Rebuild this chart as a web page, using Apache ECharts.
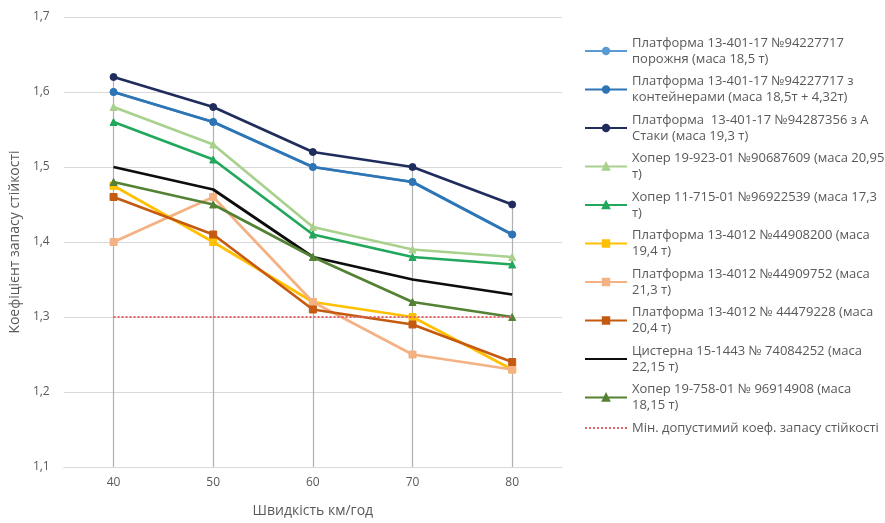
<!DOCTYPE html>
<html>
<head>
<meta charset="utf-8">
<script src="https://cdn.jsdelivr.net/npm/echarts@6/dist/echarts.min.js"></script>
<style>
  html, body { margin: 0; padding: 0; background: #fff; }
  #chart { width: 885px; height: 523px; }
</style>
</head>
<body>
<div id="chart"></div>
<script>
// Speeds, km/h
const speeds = ['40', '50', '60', '70', '80'];

// Stability reserve coefficient per wagon
const platEmpty      = [1.60, 1.56, 1.50, 1.48, 1.41];
const platContainers = [1.60, 1.56, 1.50, 1.48, 1.41];
const platStaky      = [1.62, 1.58, 1.52, 1.50, 1.45];
const hopper19923    = [1.58, 1.53, 1.42, 1.39, 1.38];
const hopper11715    = [1.56, 1.51, 1.41, 1.38, 1.37];
const plat44908200   = [1.475, 1.40, 1.32, 1.30, 1.23];
const plat44909752   = [1.40, 1.46, 1.32, 1.25, 1.23];
const plat44479228   = [1.46, 1.41, 1.31, 1.29, 1.24];
const tank74084252   = [1.50, 1.47, 1.38, 1.35, 1.33];
const hopper19758    = [1.48, 1.45, 1.38, 1.32, 1.30];
const minAllowed     = [1.30, 1.30, 1.30, 1.30, 1.30];

// Y axis range
const yMin = 1.1, yMax = 1.7, yStep = 0.1;

const seriesNames = [
  'Платформа 13-401-17 №94227717 порожня (маса 18,5 т)',
  'Платформа 13-401-17 №94227717 з контейнерами (маса 18,5т + 4,32т)',
  'Платформа  13-401-17 №94287356 з А Стаки (маса 19,3 т)',
  'Хопер 19-923-01 №90687609 (маса 20,95 т)',
  'Хопер 11-715-01 №96922539 (маса 17,3 т)',
  'Платформа 13-4012 №44908200 (маса 19,4 т)',
  'Платформа 13-4012 №44909752 (маса 21,3 т)',
  'Платформа 13-4012 № 44479228 (маса 20,4 т)',
  'Цистерна 15-1443 № 74084252 (маса 22,15 т)',
  'Хопер 19-758-01 № 96914908 (маса 18,15 т)',
  'Мін. допустимий коеф. запасу стійкості'
];
// Wrapped legend text
const legendLabels = [
  'Платформа 13-401-17 №94227717\nпорожня (маса 18,5 т)',
  'Платформа 13-401-17 №94227717 з\nконтейнерами (маса 18,5т + 4,32т)',
  'Платформа  13-401-17 №94287356 з А\nСтаки (маса 19,3 т)',
  'Хопер 19-923-01 №90687609 (маса 20,95\nт)',
  'Хопер 11-715-01 №96922539 (маса 17,3\nт)',
  'Платформа 13-4012 №44908200 (маса\n19,4 т)',
  'Платформа 13-4012 №44909752 (маса\n21,3 т)',
  'Платформа 13-4012 № 44479228 (маса\n20,4 т)',
  'Цистерна 15-1443 № 74084252 (маса\n22,15 т)',
  'Хопер 19-758-01 № 96914908 (маса\n18,15 т)',
  'Мін. допустимий коеф. запасу стійкості'
];

const seriesData = [platEmpty, platContainers, platStaky, hopper19923, hopper11715,
  plat44908200, plat44909752, plat44479228, tank74084252, hopper19758, minAllowed];
const colors = ['#5B9BD5', '#2E75B6', '#1F2D5C', '#A9D18E', '#22A85C',
  '#FFC000', '#F4B183', '#C55A11', '#0D0D0D', '#548235', '#E06464'];
const symbols = ['circle', 'circle', 'circle', 'triangle', 'triangle',
  'rect', 'rect', 'rect', 'none', 'triangle', 'none'];

const FONT = '"Open Sans", "Liberation Sans", sans-serif';

// Drop lines from the highest value at each speed down to the axis
const dropLines = speeds.map((s, i) => {
  const top = Math.max(...seriesData.slice(0, 10).map(d => d[i]));
  return [{ coord: [s, top] }, { coord: [s, yMin] }];
});

const series = seriesData.map((d, k) => {
  const isMin = k === 10;
  const s = {
    name: seriesNames[k],
    type: 'line',
    data: d,
    symbol: symbols[k],
    symbolSize: 7,
    showSymbol: symbols[k] !== 'none',
    color: colors[k],
    itemStyle: { color: colors[k], borderColor: colors[k], borderWidth: 1 },
    lineStyle: isMin
      ? { color: colors[k], width: 2, type: 'dotted' }
      : { color: colors[k], width: 2.75 },
    z: 3 + k,
    animation: false
  };
  if (k === 0) {
    s.markLine = {
      silent: true,
      symbol: ['none', 'none'],
      label: { show: false },
      lineStyle: { color: '#B0B0B0', width: 1.2, type: 'solid' },
      z: 1,
      data: dropLines,
      animation: false
    };
  }
  return s;
});

// Entries drawn as a plain line in the legend
const legendData = seriesNames.map((n, k) =>
  symbols[k] === 'none' ? { name: n, itemStyle: { opacity: 0 } } : { name: n });

const chart = echarts.init(document.getElementById('chart'), null, { renderer: 'canvas' });
chart.setOption({
  animation: false,
  backgroundColor: '#ffffff',
  textStyle: { fontFamily: FONT },
  grid: { left: 62, right: 323, top: 17, bottom: 51 },
  xAxis: {
    type: 'category',
    data: speeds,
    boundaryGap: true,
    name: 'Швидкість км/год',
    nameLocation: 'middle',
    nameGap: 37,
    nameTextStyle: { color: '#595959', fontSize: 14, fontFamily: FONT },
    axisLine: { show: true, lineStyle: { color: '#D9D9D9' } },
    axisTick: { show: false },
    axisLabel: { color: '#595959', fontSize: 12, margin: 10, fontFamily: FONT },
    splitLine: { show: false }
  },
  yAxis: {
    type: 'value',
    min: yMin,
    max: yMax,
    interval: yStep,
    name: 'Коефіцієнт запасу стійкості',
    nameLocation: 'middle',
    nameGap: 27,
    nameTextStyle: { color: '#595959', fontSize: 14, fontFamily: FONT },
    axisLine: { show: false },
    axisTick: { show: false },
    axisLabel: {
      color: '#595959', fontSize: 12, margin: 14, fontFamily: FONT,
      formatter: v => v.toFixed(1).replace('.', ',')
    },
    splitLine: { lineStyle: { color: '#D9D9D9', width: 1 } }
  },
  legend: {
    orient: 'vertical',
    left: 579,
    top: 22,
    itemWidth: 42,
    itemHeight: 8,
    itemGap: -9.5,
    data: legendData,
    formatter: name => legendLabels[seriesNames.indexOf(name)],
    textStyle: {
      color: '#595959', fontSize: 13, lineHeight: 16, fontFamily: FONT,
      padding: [16, 0, 0, 0]
    }
  },
  series: series
});
</script>
</body>
</html>
